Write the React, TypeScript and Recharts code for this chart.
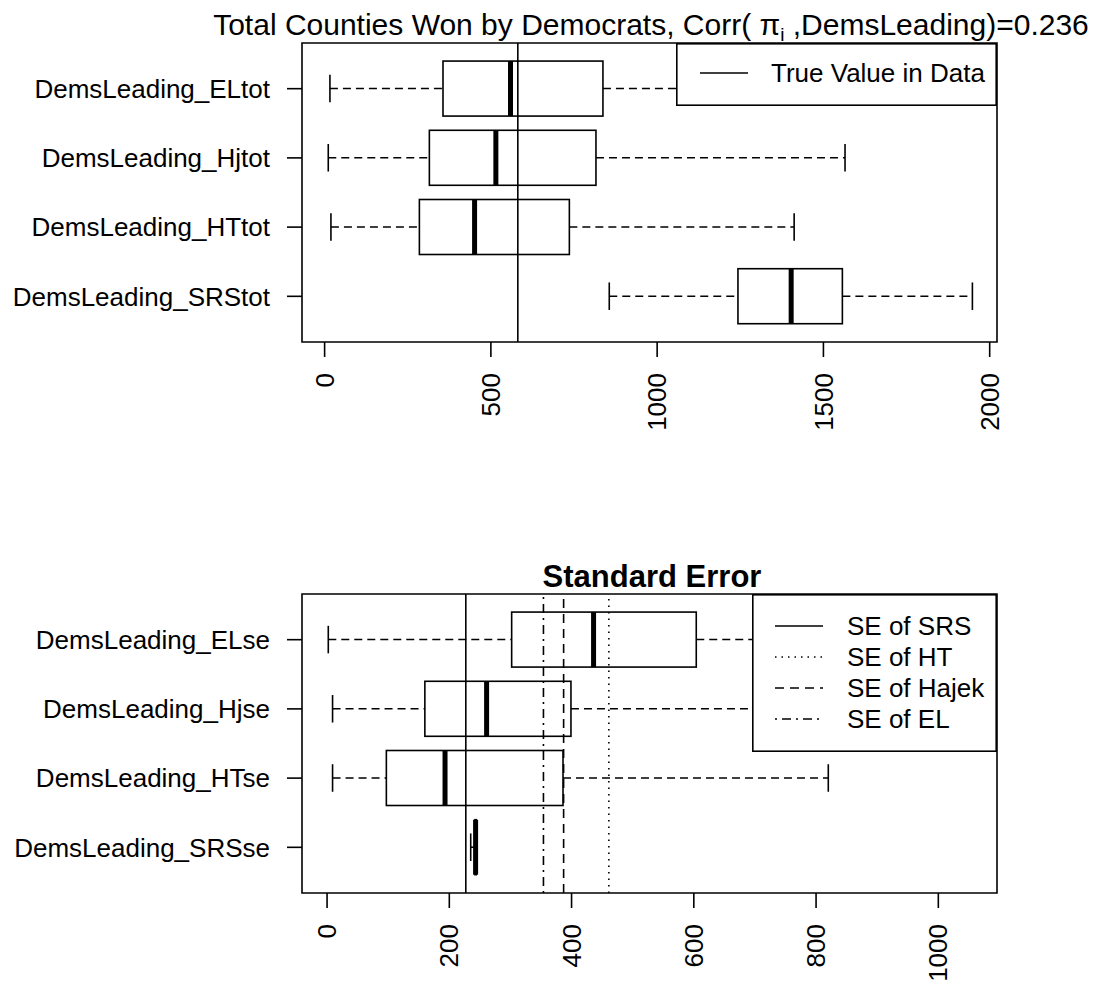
import React from "react";
import {
  ComposedChart,
  Bar,
  XAxis,
  YAxis,
  ReferenceLine,
  ReferenceArea,
  Legend,
  Customized,
} from "recharts";

// ---------- Data: top panel (totals) ----------
const topCategories = [
  "DemsLeading_ELtot",
  "DemsLeading_Hjtot",
  "DemsLeading_HTtot",
  "DemsLeading_SRStot",
];
const topMin = [16, 11, 19, 856];
const topQ1 = [356, 315, 285, 1243];
const topMedian = [559, 515, 451, 1403];
const topQ3 = [837, 816, 736, 1557];
const topMax = [1700, 1565, 1412, 1948];
const topTrueValue = 581;
const topTicks = [0, 500, 1000, 1500, 2000];
const topDomain = [-68, 2022];

// ---------- Data: bottom panel (standard errors) ----------
const seCategories = [
  "DemsLeading_ELse",
  "DemsLeading_Hjse",
  "DemsLeading_HTse",
  "DemsLeading_SRSse",
];
const seMin = [2, 9, 9, 235];
const seQ1 = [302, 160, 97, 242];
const seMedian = [436, 261, 193, 243];
const seQ3 = [604, 399, 386, 244];
const seMax = [1053, 960, 820, 244.5];
const seRefLabels = ["SE of SRS", "SE of HT", "SE of Hajek", "SE of EL"];
const seRefValues = [227, 461, 387, 354];
const seRefDash = ["", "1.5 5", "9 6", "2 5 9 5"];
const seTicks = [0, 200, 400, 600, 800, 1000];
const seDomain = [-41, 1096];

// group positions (first category at the top)
const groupTicks = [1, 2, 3, 4];
const groupDomain = [0.34, 4.66];

const FONT = "'Liberation Sans', Arial, Helvetica, sans-serif";
const LW = 1.6;

function buildRows(
  cats: string[],
  mins: number[],
  q1s: number[],
  meds: number[],
  q3s: number[],
  maxs: number[]
) {
  return cats.map((name, i) => ({
    name,
    pos: i + 1,
    range: [mins[i], maxs[i]],
    min: mins[i],
    q1: q1s[i],
    median: meds[i],
    q3: q3s[i],
    max: maxs[i],
  }));
}

const topRows = buildRows(topCategories, topMin, topQ1, topMedian, topQ3, topMax);
const seRows = buildRows(seCategories, seMin, seQ1, seMedian, seQ3, seMax);

const BoxShape = (props: any) => {
  const { x, y, width, height, payload } = props;
  if (!payload) return null;
  const lo = payload.min;
  const hi = payload.max;
  const px = (v: number) => x + ((v - lo) / (hi - lo)) * width;
  const cy = y + height / 2;
  const xMin = px(lo);
  const xQ1 = px(payload.q1);
  const xMed = px(payload.median);
  const xQ3 = px(payload.q3);
  const xMax = px(hi);
  const cap = height / 4;
  return (
    <g>
      <line x1={xMin} x2={xQ1} y1={cy} y2={cy} stroke="#000" strokeWidth={LW} strokeDasharray="8 5" />
      <line x1={xQ3} x2={xMax} y1={cy} y2={cy} stroke="#000" strokeWidth={LW} strokeDasharray="8 5" />
      <line x1={xMin} x2={xMin} y1={cy - cap} y2={cy + cap} stroke="#000" strokeWidth={LW} />
      <line x1={xMax} x2={xMax} y1={cy - cap} y2={cy + cap} stroke="#000" strokeWidth={LW} />
      <rect x={xQ1} y={y} width={Math.max(xQ3 - xQ1, 0)} height={height} fill="none" stroke="#000" strokeWidth={LW} />
      <line x1={xMed} x2={xMed} y1={y} y2={y + height} stroke="#000" strokeWidth={5} />
    </g>
  );
};

const RotTick = (props: any) => {
  const { x, y, payload } = props;
  return (
    <text
      x={x}
      y={y}
      transform={`rotate(-90, ${x}, ${y})`}
      textAnchor="end"
      dy="0.35em"
      fontSize={26}
      fontFamily={FONT}
      fill="#000"
    >
      {payload.value}
    </text>
  );
};

const TopLegend = () => (
  <svg width={321} height={63} style={{ display: "block" }}>
    <rect x={0.8} y={0.8} width={319.4} height={61.4} fill="#fff" stroke="#000" strokeWidth={LW} />
    <line x1={24} x2={72} y1={30} y2={30} stroke="#000" strokeWidth={LW} />
    <text x={95} y={30} dy="0.35em" fontSize={26} fontFamily={FONT} fill="#000">
      True Value in Data
    </text>
  </svg>
);

const SeLegend = () => (
  <svg width={245} height={158} style={{ display: "block" }}>
    <rect x={0.8} y={0.8} width={243.4} height={156.4} fill="#fff" stroke="#000" strokeWidth={LW} />
    {seRefLabels.map((lab, i) => (
      <g key={lab}>
        <line
          x1={23}
          x2={71}
          y1={32 + i * 31}
          y2={32 + i * 31}
          stroke="#000"
          strokeWidth={LW}
          strokeDasharray={seRefDash[i] || undefined}
        />
        <text x={95} y={32 + i * 31} dy="0.35em" fontSize={26} fontFamily={FONT} fill="#000">
          {lab}
        </text>
      </g>
    ))}
  </svg>
);

const TopTitle = () => (
  <text x={651} y={35} textAnchor="middle" fontSize={30} fontFamily={FONT} fill="#000">
    Total Counties Won by Democrats, Corr( π
    <tspan fontSize={19} dy={6}>i</tspan>
    <tspan dy={-6}> ,DemsLeading)=0.236</tspan>
  </text>
);

const SeTitle = () => (
  <text x={652} y={95} textAnchor="middle" fontSize={31} fontWeight="bold" fontFamily={FONT} fill="#000">
    Standard Error
  </text>
);

export default function App() {
  const topName = (v: number) => topCategories[v - 1];
  const seName = (v: number) => seCategories[v - 1];
  return (
    <div style={{ position: "absolute", left: 0, top: 0, width: 1099, height: 984, background: "#fff" }}>
      <div style={{ position: "absolute", left: 0, top: 0 }}>
        <ComposedChart
          width={1099}
          height={492}
          data={topRows}
          layout="vertical"
          margin={{ top: 43, right: 102, bottom: 0, left: 0 }}
        >
          <XAxis
            type="number"
            domain={topDomain}
            allowDataOverflow
            ticks={topTicks}
            interval={0}
            axisLine={false}
            tickSize={15}
            tickMargin={16}
            tickLine={{ stroke: "#000", strokeWidth: LW }}
            tick={<RotTick />}
            height={150}
          />
          <YAxis
            type="number"
            dataKey="pos"
            domain={groupDomain}
            allowDataOverflow
            ticks={groupTicks}
            tickFormatter={topName}
            width={302}
            axisLine={false}
            tickSize={15}
            tickMargin={17}
            tickLine={{ stroke: "#000", strokeWidth: LW }}
            tick={{ fill: "#000", fontSize: 26, fontFamily: FONT }}
            interval={0}
          />
          <Bar dataKey="range" barSize={55} shape={<BoxShape />} isAnimationActive={false} />
          <ReferenceLine x={topTrueValue} stroke="#000" strokeWidth={LW} />
          <ReferenceArea x1={topDomain[0]} x2={topDomain[1]} y1={groupDomain[0]} y2={groupDomain[1]} fill="none" stroke="#000" strokeWidth={LW} />
          <Customized component={TopTitle} />
          <Legend
            layout="horizontal"
            verticalAlign="middle"
            align="center"
            content={() => <TopLegend />}
            wrapperStyle={{ left: 676, top: 43, width: 321, height: 63 }}
          />
        </ComposedChart>
      </div>
      <div style={{ position: "absolute", left: 0, top: 492 }}>
        <ComposedChart
          width={1099}
          height={492}
          data={seRows}
          layout="vertical"
          margin={{ top: 102, right: 102, bottom: 0, left: 0 }}
        >
          <XAxis
            type="number"
            domain={seDomain}
            allowDataOverflow
            ticks={seTicks}
            interval={0}
            axisLine={false}
            tickSize={15}
            tickMargin={16}
            tickLine={{ stroke: "#000", strokeWidth: LW }}
            tick={<RotTick />}
            height={91}
          />
          <YAxis
            type="number"
            dataKey="pos"
            domain={groupDomain}
            allowDataOverflow
            ticks={groupTicks}
            tickFormatter={seName}
            width={302}
            axisLine={false}
            tickSize={15}
            tickMargin={17}
            tickLine={{ stroke: "#000", strokeWidth: LW }}
            tick={{ fill: "#000", fontSize: 26, fontFamily: FONT }}
            interval={0}
          />
          <Bar dataKey="range" barSize={55} shape={<BoxShape />} isAnimationActive={false} />
          {seRefValues.map((v, i) => (
            <ReferenceLine
              key={seRefLabels[i]}
              x={v}
              stroke="#000"
              strokeWidth={LW}
              strokeDasharray={seRefDash[i] || undefined}
            />
          ))}
          <ReferenceArea x1={seDomain[0]} x2={seDomain[1]} y1={groupDomain[0]} y2={groupDomain[1]} fill="none" stroke="#000" strokeWidth={LW} />
          <Customized component={SeTitle} />
          <Legend
            layout="horizontal"
            verticalAlign="middle"
            align="center"
            content={() => <SeLegend />}
            wrapperStyle={{ left: 752, top: 102, width: 245, height: 158 }}
          />
        </ComposedChart>
      </div>
    </div>
  );
}
